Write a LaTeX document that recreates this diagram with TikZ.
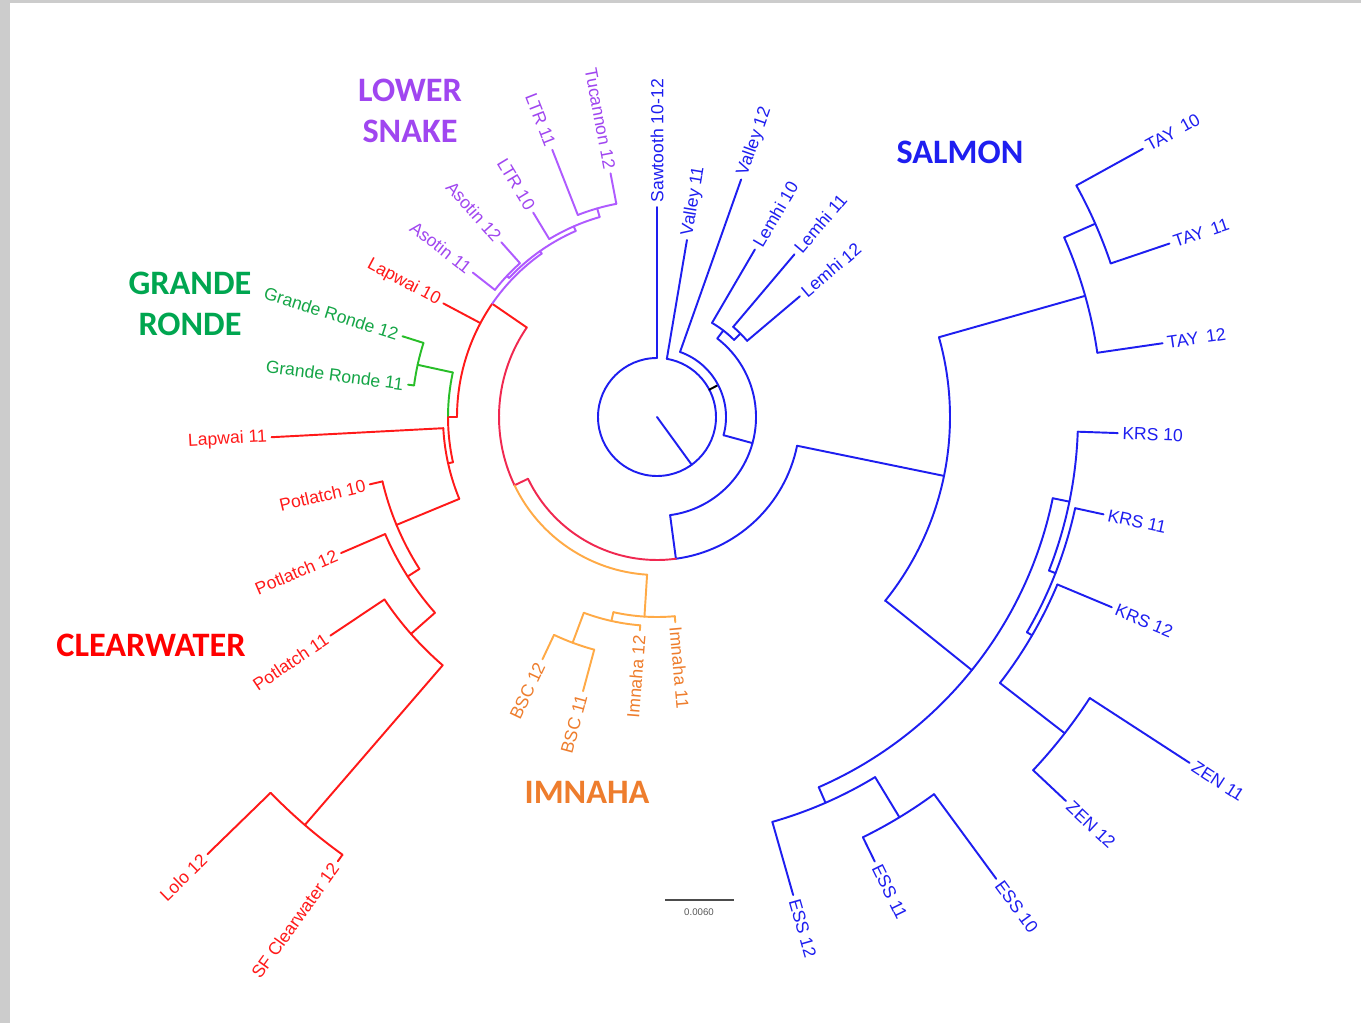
\documentclass[tikz,border=0pt]{standalone}
\usepackage{fontspec}
\setmainfont{Liberation Sans}
\newfontfamily\grpfont{Carlito}

\definecolor{salblue}{RGB}{30,30,240}
\definecolor{cwred}{RGB}{255,25,25}
\definecolor{deepred}{RGB}{240,40,80}
\definecolor{lspurple}{RGB}{175,90,255}
\definecolor{lstext}{RGB}{160,70,240}
\definecolor{grgreen}{RGB}{40,190,40}
\definecolor{grtext}{RGB}{20,165,70}
\definecolor{grtitle}{RGB}{0,166,80}
\definecolor{imorange}{RGB}{255,170,70}
\definecolor{imtext}{RGB}{238,125,45}

% radial branch: style, angle, from radius, to radius
\newcommand{\rbr}[4]{\draw[tree,#1] (#2:#3) -- (#2:#4);}
% connecting arc: style, radius, start angle, end angle
\newcommand{\abr}[4]{\draw[tree,#1] (#3:#2) arc[start angle=#3,end angle=#4,radius=#2];}
% tip labels (right half / left half of the circle)
\newcommand{\tipR}[5]{\node[tip,text=#2,rotate=#3,anchor=west] (#1) at (#3:#4) {#5};}
\newcommand{\tipL}[5]{\node[tip,text=#2,rotate=#3-180,anchor=east] (#1) at (#3:#4) {#5};}

\begin{document}
\begin{tikzpicture}[x=0.02cm,y=-0.02cm,
    tree/.style={line width=1.1pt,line cap=round,line join=round},
    tip/.style={font=\fontsize{10}{12}\selectfont,inner sep=2.5pt},
    grp/.style={font=\grpfont\bfseries\fontsize{19.5}{23.5}\selectfont,align=center}]

    \useasboundingbox (0,0) rectangle (1361,1023);
    \fill[white] (0,0) rectangle (1361,1023);
    \fill[gray!40] (0,0) rectangle (10,1023);
    \fill[gray!40] (0,0) rectangle (1361,3);

    % group titles
    \node[grp,text=lstext] (lowersnake) at (410,111) {LOWER\\SNAKE};
    \node[grp,text=grtitle] (granderonde) at (190,304) {GRANDE\\RONDE};
    \node[grp,text=red] (clearwater) at (151,645) {CLEARWATER};
    \node[grp,text=imtext] (imnaha) at (587,792) {IMNAHA};
    \node[grp,text=salblue] (salmon) at (960,152) {SALMON};

    % scale bar
    \coordinate (sbl) at (665,900);
    \coordinate (sbr) at (734,900);
    \draw[gray!60!black,line width=0.8pt] (sbl) -- (sbr);
    \node[font=\fontsize{5.5}{6}\selectfont,text=gray!70!black] (sblab) at (699,912) {0.0060};

    \begin{scope}[shift={(657,417)},y=0.02cm]
    %root
    \rbr{salblue}{-54}{0}{59}
    \abr{salblue}{59}{90}{440.4}
    \rbr{black}{27.6}{59}{69}
    \rbr{salblue}{90}{59}{210}
    \rbr{salblue}{80.4}{59}{179.5}
    \abr{salblue}{69}{-15.3}{70.5}
    \rbr{salblue}{70.5}{69}{252}
    \rbr{salblue}{-15.3}{69}{99}
    \abr{salblue}{99}{277.6}{412.5}
    %Lemhi
    \rbr{salblue}{52.5}{99}{109}
    \abr{salblue}{109}{45}{59.7}
    \rbr{salblue}{59.7}{109}{194}
    \rbr{salblue}{45}{109}{118}
    \abr{salblue}{118}{40.2}{49.8}
    \rbr{salblue}{49.8}{118}{213}
    \rbr{salblue}{40.2}{118}{187}
    %outer salmon
    \rbr{salblue}{277.6}{99}{143}
    \abr{salblue}{143}{277.6}{348.4}
    \abr{deepred}{143}{205.6}{277.6}
    \rbr{salblue}{348.4}{143}{293}
    \abr{salblue}{293}{-38.9}{15.8}
    %TAY
    \rbr{salblue}{15.8}{293}{445}
    \abr{salblue}{445}{8.3}{23.8}
    \rbr{salblue}{8.3}{445}{511}
    \rbr{salblue}{23.8}{445}{479}
    \abr{salblue}{479}{18.7}{28.9}
    \rbr{salblue}{28.9}{479}{555}
    \rbr{salblue}{18.7}{479}{541}
    %ESS
    \rbr{salblue}{-38.8}{293}{404}
    \abr{salblue}{404}{-66.4}{-11.6}
    \rbr{salblue}{-66.4}{404}{421}
    \abr{salblue}{421}{-74.1}{-58.8}
    \rbr{salblue}{-74.1}{421}{497}
    \rbr{salblue}{-58.8}{421}{468}
    \abr{salblue}{468}{-63.9}{-53.7}
    \rbr{salblue}{-63.9}{468}{495}
    \rbr{salblue}{-53.7}{468}{573}
    %KRS and ZEN
    \rbr{salblue}{-11.6}{404}{421}
    \abr{salblue}{421}{-21.4}{-2}
    \rbr{salblue}{-2}{421}{461}
    \rbr{salblue}{-21.4}{421}{428}
    \abr{salblue}{428}{-30.2}{-12.3}
    \rbr{salblue}{-12.3}{428}{457}
    \rbr{salblue}{-30.2}{428}{434}
    \abr{salblue}{434}{-37.8}{-22.7}
    \rbr{salblue}{-22.7}{434}{493}
    \rbr{salblue}{-37.8}{434}{516}
    \abr{salblue}{516}{-43.2}{-33}
    \rbr{salblue}{-33}{516}{635}
    \rbr{salblue}{-43.2}{516}{561}

    %red side
    \rbr{deepred}{205.6}{143}{158}
    \abr{deepred}{158}{145.5}{205.6}
    \abr{imorange}{158}{205.6}{266.4}
    \rbr{cwred}{145.5}{158}{200}
    \abr{cwred}{200}{145.5}{180}
    \rbr{cwred}{152}{200}{242}
    \rbr{cwred}{180}{200}{209}
    \abr{grgreen}{209}{167.7}{180}
    \abr{cwred}{209}{180}{192.5}
    %Grande Ronde
    \rbr{grgreen}{167.7}{209}{245}
    \abr{grgreen}{245}{162.4}{172.6}
    \rbr{grgreen}{162.4}{245}{267}
    \rbr{grgreen}{172.6}{245}{251}
    %Clearwater
    \rbr{cwred}{192.5}{209}{214}
    \abr{cwred}{214}{183}{202.5}
    \rbr{cwred}{183}{214}{386}
    \rbr{cwred}{202.5}{214}{282}
    \abr{cwred}{282}{193.2}{212.6}
    \rbr{cwred}{193.2}{282}{295}
    \rbr{cwred}{212.6}{282}{296}
    \abr{cwred}{296}{203.3}{221.4}
    \rbr{cwred}{203.3}{296}{344}
    \rbr{cwred}{221.4}{296}{328}
    \abr{cwred}{328}{213.8}{229.2}
    \rbr{cwred}{213.8}{328}{393}
    \rbr{cwred}{229.2}{328}{539}
    \abr{cwred}{539}{224.2}{234.3}
    \rbr{cwred}{224.2}{539}{627}
    \rbr{cwred}{234.3}{539}{547}
    %Lower Snake
    \abr{lspurple}{200}{125.2}{145.5}
    \rbr{lspurple}{125.2}{200}{203}
    \abr{lspurple}{203}{113.6}{136.8}
    \rbr{lspurple}{136.8}{203}{206}
    \abr{lspurple}{206}{131.7}{141.9}
    \rbr{lspurple}{141.9}{206}{234}
    \rbr{lspurple}{131.7}{206}{234}
    \rbr{lspurple}{113.6}{203}{208}
    \abr{lspurple}{208}{106}{121.2}
    \rbr{lspurple}{121.2}{208}{239}
    \rbr{lspurple}{106}{208}{217}
    \abr{lspurple}{217}{100.8}{111.4}
    \rbr{lspurple}{111.4}{217}{287}
    \rbr{lspurple}{100.8}{217}{248}
    %Imnaha
    \rbr{imorange}{266.4}{158}{200}
    \abr{imorange}{200}{257.4}{275.1}
    \rbr{imorange}{275.1}{200}{206}
    \rbr{imorange}{257.4}{200}{209}
    \abr{imorange}{209}{249.5}{265.4}
    \rbr{imorange}{265.4}{209}{214}
    \rbr{imorange}{249.5}{209}{241}
    \abr{imorange}{241}{244.7}{254.9}
    \rbr{imorange}{244.7}{241}{268}
    \rbr{imorange}{254.9}{241}{284}

    %tip labels
    \tipR{saw}{salblue}{90}{210}{Sawtooth 10-12}
    \tipR{val11}{salblue}{80.4}{179.5}{Valley 11}
    \tipR{val12}{salblue}{70.5}{252}{Valley 12}
    \tipR{lem10}{salblue}{59.7}{194}{Lemhi 10}
    \tipR{lem11}{salblue}{49.8}{213}{Lemhi 11}
    \tipR{lem12}{salblue}{40.2}{187}{Lemhi 12}
    \tipR{tay10}{salblue}{28.9}{555}{TAY\ \,10}
    \tipR{tay11}{salblue}{18.7}{541}{TAY\ \,11}
    \tipR{tay12}{salblue}{8.3}{511}{TAY\ \,12}
    \tipR{krs10}{salblue}{-2}{461}{KRS 10}
    \tipR{krs11}{salblue}{-12.3}{457}{KRS 11}
    \tipR{krs12}{salblue}{-22.7}{493}{KRS 12}
    \tipR{zen11}{salblue}{-33}{635}{ZEN 11}
    \tipR{zen12}{salblue}{-43.2}{561}{ZEN 12}
    \tipR{ess10}{salblue}{-53.7}{573}{ESS 10}
    \tipR{ess11}{salblue}{-63.9}{495}{ESS 11}
    \tipR{ess12}{salblue}{-74.1}{497}{ESS 12}
    \tipR{imn11}{imtext}{-84.9}{206}{Imnaha 11}
    \tipL{imn12}{imtext}{265.4}{214}{Imnaha 12}
    \tipL{bsc11}{imtext}{254.9}{284}{BSC 11}
    \tipL{bsc12}{imtext}{244.7}{268}{BSC 12}
    \tipL{sfc12}{cwred}{234.3}{547}{SF Clearwater 12}
    \tipL{lolo12}{cwred}{224.2}{627}{Lolo 12}
    \tipL{pot11}{cwred}{213.8}{393}{Potlatch 11}
    \tipL{pot12}{cwred}{203.3}{344}{Potlatch 12}
    \tipL{pot10}{cwred}{193.2}{295}{Potlatch 10}
    \tipL{lap11}{cwred}{183}{386}{Lapwai 11}
    \tipL{gr11}{grtext}{172.6}{251}{Grande Ronde 11}
    \tipL{gr12}{grtext}{162.4}{267}{Grande Ronde 12}
    \tipL{lap10}{cwred}{152}{242}{Lapwai 10}
    \tipL{aso11}{lstext}{141.9}{234}{Asotin 11}
    \tipL{aso12}{lstext}{131.7}{234}{Asotin 12}
    \tipL{ltr10}{lstext}{121.2}{239}{LTR 10}
    \tipL{ltr11}{lstext}{111.4}{287}{LTR 11}
    \tipL{tuc12}{lstext}{100.8}{248}{Tucannon 12}
    \end{scope}
\end{tikzpicture}
\end{document}
